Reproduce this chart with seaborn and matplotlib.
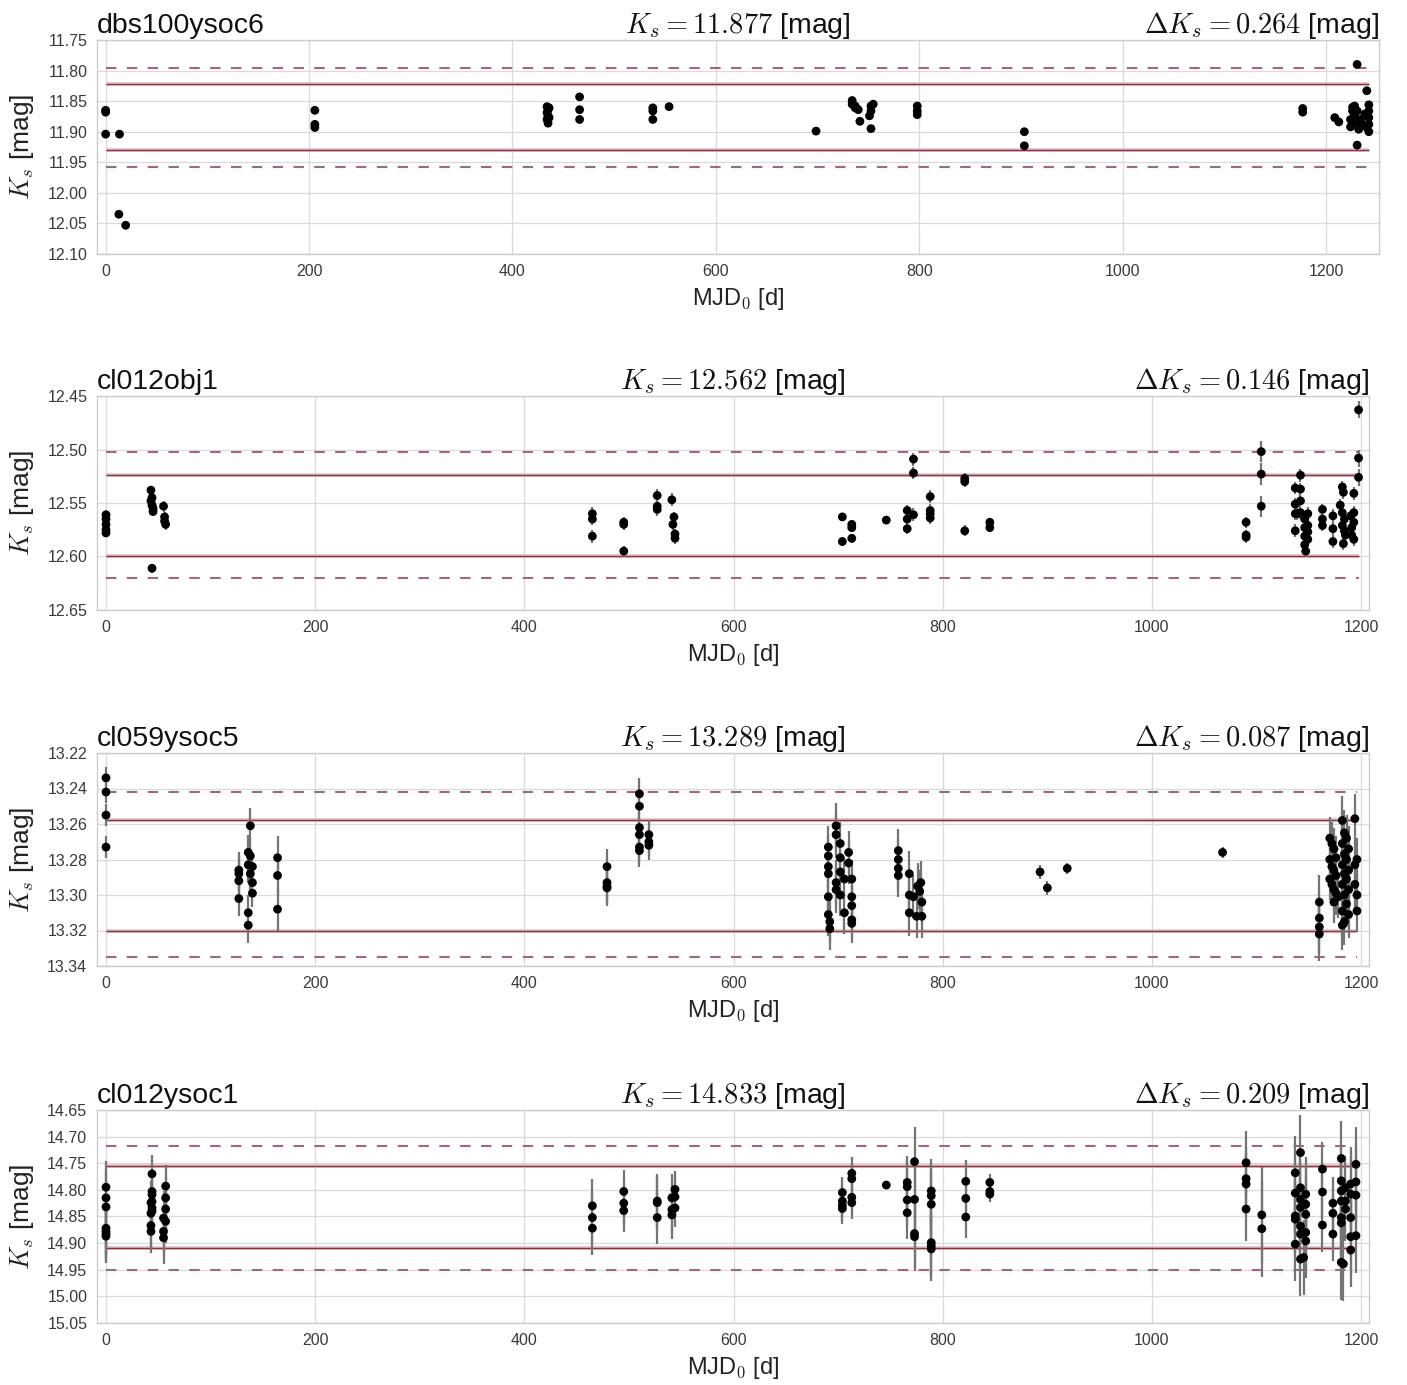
import matplotlib
matplotlib.use("Agg")
import matplotlib.pyplot as plt
import numpy as np
import pandas as pd
import seaborn as sns

# ---------------- data ----------------
names = ["dbs100ysoc6", "cl012obj1", "cl059ysoc5", "cl012ysoc1"]
ks_mean = [11.877, 12.562, 13.289, 14.833]
ks_delta = [0.264, 0.146, 0.087, 0.209]

# panel 1 : epochs (MJD_0), magnitudes per epoch, error per epoch
p1_mjd = [0, 13.6, 13.0, 19.7, 205.7, 434, 435, 436, 466, 538, 554, 698.5,
          734, 737, 740, 741.6, 751, 752.5, 754.7, 798, 903.3, 1177, 1208.5,
          1212.5, 1224, 1226, 1228, 1230.5, 1232, 1234, 1236, 1238, 1240, 1242]
p1_ks = [[11.865, 11.868, 11.904], [11.904], [12.035], [12.053],
         [11.865, 11.888, 11.893], [11.859, 11.869, 11.880], [11.864, 11.874, 11.886],
         [11.861, 11.877], [11.843, 11.864, 11.880], [11.861, 11.866, 11.880],
         [11.859], [11.899], [11.849, 11.855], [11.858, 11.861], [11.864], [11.883],
         [11.874], [11.858, 11.866, 11.895], [11.855], [11.858, 11.866, 11.872],
         [11.900, 11.923], [11.862, 11.868], [11.877], [11.884], [11.892, 11.880],
         [11.860, 11.866], [11.874, 11.858], [11.790, 11.922, 11.885, 11.866],
         [11.896], [11.880], [11.888], [11.871], [11.893, 11.833],
         [11.856, 11.866, 11.877, 11.888, 11.900]]
p1_err = [0.002, 0.002, 0.002, 0.002, 0.002, 0.002, 0.002, 0.002, 0.002,
          0.002, 0.002, 0.002, 0.002, 0.002, 0.002, 0.002, 0.002, 0.002, 0.002,
          0.002, 0.002, 0.002, 0.002, 0.002, 0.002, 0.002, 0.002, 0.002, 0.002,
          0.002, 0.002, 0.002, 0.002, 0.002]

p2_mjd = [0, 43, 44, 45, 55, 56, 57, 465, 495, 527, 541, 542, 543, 544, 704, 713,
          746, 766, 772, 788, 821, 845, 1090, 1104.5, 1137, 1139, 1142, 1146, 1147,
          1149, 1163, 1173, 1180, 1182, 1183, 1184, 1185, 1190, 1191, 1193, 1197.5]
p2_ks = [[12.561, 12.565, 12.570, 12.575, 12.578], [12.538, 12.548],
         [12.545, 12.552, 12.611], [12.555, 12.558], [12.553], [12.563, 12.567],
         [12.570], [12.560, 12.565, 12.581], [12.568, 12.570, 12.595],
         [12.543, 12.553, 12.556], [12.547], [12.570], [12.563], [12.579, 12.583],
         [12.563, 12.586], [12.570, 12.573, 12.583], [12.566],
         [12.557, 12.565, 12.574], [12.509, 12.522, 12.561],
         [12.544, 12.557, 12.560, 12.564], [12.527, 12.530, 12.576],
         [12.568, 12.573], [12.568, 12.580, 12.582], [12.502, 12.523, 12.553],
         [12.536, 12.551, 12.560, 12.576], [12.560], [12.524, 12.537, 12.548, 12.559],
         [12.565, 12.573, 12.581, 12.589], [12.595], [12.560, 12.571, 12.577, 12.584],
         [12.556, 12.565, 12.571], [12.562, 12.574, 12.586], [12.552],
         [12.535, 12.559, 12.571], [12.540, 12.588], [12.565, 12.576], [12.580],
         [12.562], [12.573, 12.580], [12.541, 12.559, 12.568, 12.584],
         [12.463, 12.508, 12.526]]
p2_err = [0.004, 0.004, 0.004, 0.004, 0.005, 0.005, 0.005, 0.006, 0.005, 0.006,
          0.006, 0.005, 0.005, 0.005, 0.004, 0.004, 0.003, 0.005, 0.006, 0.006,
          0.005, 0.004, 0.005, 0.010, 0.006, 0.006, 0.006, 0.006, 0.005, 0.006,
          0.005, 0.006, 0.006, 0.006, 0.006, 0.006, 0.006, 0.005, 0.005, 0.006, 0.008]

p3_mjd = [0, 127, 136, 138, 140, 164, 479, 510, 519, 690.6, 692, 698, 702, 706,
          710, 713, 757.5, 768, 772, 775, 776, 778, 779, 780, 893, 900, 919, 1067.5,
          1160, 1170, 1172, 1174, 1176, 1178, 1182, 1184, 1186, 1188, 1194, 1196]
p3_ks = [[13.234, 13.242, 13.255, 13.273], [13.286, 13.288, 13.292, 13.302],
         [13.276, 13.283, 13.310, 13.317], [13.261, 13.278, 13.288],
         [13.284, 13.293, 13.299], [13.279, 13.289, 13.308],
         [13.284, 13.293, 13.295, 13.296],
         [13.243, 13.250, 13.262, 13.266, 13.273, 13.275], [13.266, 13.270, 13.272],
         [13.273, 13.278, 13.284, 13.288, 13.301, 13.311], [13.315, 13.319],
         [13.261, 13.266, 13.293, 13.297], [13.271, 13.279, 13.287, 13.300],
         [13.291, 13.310], [13.276, 13.282], [13.291, 13.301, 13.306, 13.314, 13.316],
         [13.275, 13.280, 13.285, 13.289], [13.288, 13.300, 13.310], [13.301],
         [13.312], [13.295], [13.298], [13.293], [13.304, 13.312], [13.287],
         [13.296], [13.285], [13.276], [13.304, 13.313, 13.318, 13.322],
         [13.268, 13.280, 13.291], [13.271, 13.284, 13.294],
         [13.274, 13.286, 13.297, 13.304], [13.279, 13.289, 13.299], [13.301],
         [13.258, 13.271, 13.283, 13.294, 13.309, 13.317],
         [13.265, 13.277, 13.288, 13.300, 13.315], [13.268, 13.280, 13.291, 13.305],
         [13.274, 13.286, 13.297, 13.311], [13.257, 13.283, 13.294],
         [13.280, 13.300, 13.309]]
p3_err = [0.006, 0.010, 0.010, 0.010, 0.008, 0.012, 0.010, 0.009, 0.008, 0.012,
          0.012, 0.013, 0.012, 0.012, 0.012, 0.011, 0.012, 0.013, 0.012, 0.012,
          0.013, 0.012, 0.012, 0.012, 0.004, 0.004, 0.003, 0.003, 0.015, 0.012,
          0.012, 0.012, 0.012, 0.012, 0.014, 0.013, 0.013, 0.013, 0.014, 0.012]

p4_mjd = [0, 43, 44, 55, 57, 465, 495, 527, 541, 544, 704, 713, 746, 766, 773, 789,
          822, 845, 1090, 1105, 1137, 1142, 1145, 1147, 1163, 1173, 1181, 1183, 1185,
          1190, 1195]
p4_ks = [[14.795, 14.815, 14.832, 14.872, 14.878, 14.883, 14.887],
         [14.824, 14.844, 14.867, 14.878],
         [14.770, 14.803, 14.809, 14.822, 14.834, 14.840],
         [14.853, 14.878, 14.890], [14.793, 14.815, 14.836, 14.859],
         [14.830, 14.852, 14.872], [14.803, 14.825, 14.839],
         [14.821, 14.824, 14.852], [14.815, 14.837, 14.847],
         [14.799, 14.813, 14.834], [14.805, 14.821, 14.829, 14.835],
         [14.769, 14.779, 14.814, 14.824], [14.791],
         [14.786, 14.794, 14.819, 14.843], [14.747, 14.818, 14.882, 14.888],
         [14.802, 14.811, 14.827, 14.899, 14.905, 14.911],
         [14.784, 14.816, 14.851], [14.786, 14.803, 14.808],
         [14.749, 14.779, 14.789, 14.836], [14.847, 14.873],
         [14.768, 14.806, 14.849, 14.855, 14.902],
         [14.730, 14.796, 14.818, 14.833, 14.868, 14.883, 14.930], [14.927],
         [14.808, 14.827, 14.846, 14.880, 14.896], [14.761, 14.804, 14.866],
         [14.825, 14.844, 14.883],
         [14.741, 14.783, 14.802, 14.821, 14.852, 14.862, 14.936], [14.939],
         [14.796, 14.821, 14.836], [14.789, 14.808, 14.852, 14.888, 14.913],
         [14.752, 14.785, 14.810, 14.886]]
p4_err = [0.05, 0.04, 0.035, 0.05, 0.04, 0.05, 0.04, 0.05, 0.045, 0.035, 0.03, 0.03,
          0.006, 0.05, 0.065, 0.06, 0.04, 0.015, 0.06, 0.09, 0.07, 0.07, 0.07, 0.07,
          0.05, 0.05, 0.07, 0.07, 0.06, 0.07, 0.07]

solid_levels = [[11.822, 11.930], [12.524, 12.600], [13.258, 13.320], [14.755, 14.910]]
dashed_levels = [[11.795, 11.957], [12.502, 12.620], [13.242, 13.335], [14.718, 14.950]]

yticks = [[11.75, 11.80, 11.85, 11.90, 11.95, 12.00, 12.05, 12.10],
          [12.45, 12.50, 12.55, 12.60, 12.65],
          [13.22, 13.24, 13.26, 13.28, 13.30, 13.32, 13.34],
          [14.65, 14.70, 14.75, 14.80, 14.85, 14.90, 14.95, 15.00, 15.05]]
xticks = [0, 200, 400, 600, 800, 1000, 1200]
xlims = [(-8.5, 1252), (-8.6, 1207.5), (-8.6, 1207.5), (-8.6, 1207.5)]

# ---------------- style ----------------
sns.set_style("whitegrid")
plt.rcParams["font.family"] = ["Liberation Sans", "DejaVu Sans"]
plt.rcParams["mathtext.fontset"] = "cm"

W, H = 1407, 1385
fig = plt.figure(figsize=(W / 100, H / 100), dpi=100)

boxes = [(97, 40, 1379, 254), (97, 396, 1369, 610), (97, 753, 1369, 966), (97, 1110, 1369, 1323)]

panels = [(p1_mjd, p1_ks, p1_err), (p2_mjd, p2_ks, p2_err),
          (p3_mjd, p3_ks, p3_err), (p4_mjd, p4_ks, p4_err)]

for i, (mjd, ks, err) in enumerate(panels):
    x0, y0, x1, y1 = boxes[i]
    ax = fig.add_axes([x0 / W, 1 - y1 / H, (x1 - x0) / W, (y1 - y0) / H])
    rows = []
    for d, mags, e in zip(mjd, ks, err):
        for m in mags:
            rows.append((d, m, e))
    df = pd.DataFrame(rows, columns=["mjd", "ks", "err"])

    xmin, xmax = df["mjd"].min(), df["mjd"].max()
    ax.hlines(solid_levels[i], xmin, xmax, colors="#e6bcc4", lw=2.6, zorder=1)
    ax.hlines(solid_levels[i], xmin, xmax, colors="#7d3a44", lw=1.0, zorder=1.2)
    ax.hlines(dashed_levels[i], xmin, xmax, colors="#a5657f", lw=1.5,
              linestyles=[(0, (5, 5))], zorder=1.1)

    ax.errorbar(df["mjd"], df["ks"], yerr=df["err"], fmt="none",
                ecolor="#747474", elinewidth=1.6, capsize=0, zorder=2)
    sns.scatterplot(data=df, x="mjd", y="ks", ax=ax, color="black", s=40,
                    edgecolor="none", linewidth=0, zorder=3, legend=False)

    ax.set_xlim(*xlims[i])
    yt = yticks[i]
    ax.set_ylim(yt[-1], yt[0])
    ax.set_yticks(yt)
    ax.set_yticklabels([f"{v:.2f}" for v in yt])
    ax.set_xticks(xticks)
    ax.set_xticklabels([str(v) for v in xticks])
    ax.tick_params(axis="both", length=0, labelsize=11.5, labelcolor="#3a3a3a", pad=7)
    ax.grid(True, color="#dadada", lw=0.9)
    for sp in ax.spines.values():
        sp.set_color("#cccccc")
        sp.set_linewidth(1.0)

    ax.set_xlabel("MJD$_0$ [d]", fontsize=17, color="#222222", labelpad=5)
    ax.set_ylabel("$K_s$ [mag]", fontsize=19, color="#222222", labelpad=8)
    ax.set_title(names[i], loc="left", fontsize=20.5, color="#111111", pad=5)
    ax.set_title(f"$K_s = {ks_mean[i]:.3f}$ [mag]", loc="center", fontsize=20.5,
                 color="#111111", pad=5)
    ax.set_title(f"$\\Delta K_s = {ks_delta[i]:.3f}$ [mag]", loc="right", fontsize=20.5,
                 color="#111111", pad=5)

fig.savefig("out.png", dpi=100)
